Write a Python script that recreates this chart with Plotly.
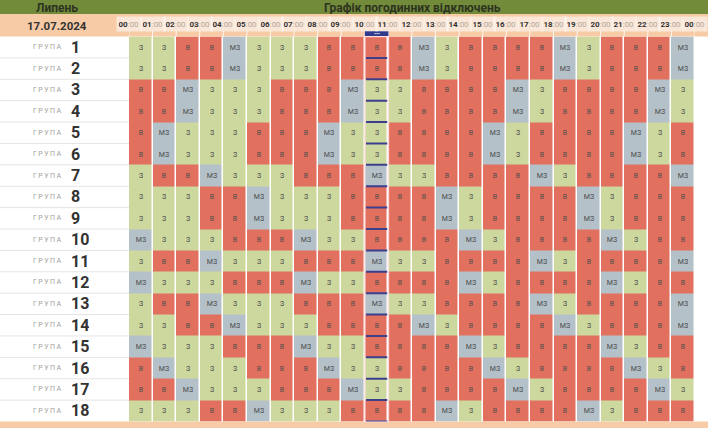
import plotly.graph_objects as go

# canvas in pixels, everything below is placed on it
W, H = 718, 428

month_label = "Липень"
title_text = "Графік погодинних відключень"
date_label = "17.07.2024"
current_hour = 10

groups = list(range(1, 19))
hour_labels = ["%02d" % h for h in range(24)] + ["00"]

# З - світло є, МЗ - можливе відключення, В - відключення
schedule = [
    "З З В В МЗ З З З В В В В МЗ З В В В В МЗ З В В В МЗ",   # 1
    "З З В В МЗ З З З В В В В МЗ З В В В В МЗ З В В В МЗ",   # 2
    "В В МЗ З З З В В В МЗ З З В В В В МЗ З В В В В МЗ З",   # 3
    "В В МЗ З З З В В В МЗ З З В В В В МЗ З В В В В МЗ З",   # 4
    "В МЗ З З З В В В МЗ З З В В В В МЗ З В В В В МЗ З В",   # 5
    "В МЗ З З З В В В МЗ З З В В В В МЗ З В В В В МЗ З В",   # 6
    "З В В МЗ З З З В В В МЗ З З В В В В МЗ З В В В В МЗ",   # 7
    "З З З В В МЗ З З З В В В В МЗ З В В В В МЗ З В В В",   # 8
    "З З З В В МЗ З З З В В В В МЗ З В В В В МЗ З В В В",   # 9
    "МЗ З З З В В В МЗ З З В В В В МЗ З В В В В МЗ З В В",   # 10
    "З В В МЗ З З З В В В МЗ З З В В В В МЗ З В В В В МЗ",   # 11
    "МЗ З З З В В В МЗ З З В В В В МЗ З В В В В МЗ З В В",   # 12
    "З В В МЗ З З З В В В МЗ З З В В В В МЗ З В В В В МЗ",   # 13
    "З З В В МЗ З З З В В В В МЗ З В В В В МЗ З В В В МЗ",   # 14
    "МЗ З З З В В В МЗ З З В В В В МЗ З В В В В МЗ З В В",   # 15
    "В МЗ З З З В В В МЗ З З В В В В МЗ З В В В В МЗ З В",   # 16
    "В В МЗ З З З В В В МЗ З З В В В В МЗ З В В В В МЗ З",   # 17
    "З З З В В МЗ З З З В В В В МЗ З В В В В МЗ З В В В",   # 18
]

codes = {"З": 0, "МЗ": 1, "В": 2}
green, grey, red = "#cdd89e", "#b4c1c9", "#e2705f"

text = [row.split() for row in schedule]
z = [[codes[v] for v in row] for row in text]

# pixel helpers
def px(x):
    return x / W

def py(y):
    return 1 - y / H

grid_left, grid_right = 129, 695
grid_top, grid_bottom = 36.5, 421.5

fig = go.Figure()

fig.add_trace(go.Heatmap(
    z=z,
    x=list(range(24)),
    y=groups,
    text=text,
    texttemplate="%{text}",
    textfont=dict(size=7, color="#4d4d4d", family="Roboto"),
    colorscale=[[0, green], [0.25, green], [0.25, grey], [0.75, grey], [0.75, red], [1, red]],
    zmin=0, zmax=2,
    xgap=1.5, ygap=0,
    showscale=False,
    hoverinfo="skip",
))

shapes = []
annotations = []

# top olive bar + peach header band + bottom band
shapes.append(dict(type="rect", xref="paper", yref="paper", x0=0, x1=px(708), y0=py(14), y1=1,
                   fillcolor="#718b3b", line_width=0, layer="below"))
shapes.append(dict(type="rect", xref="paper", yref="paper", x0=0, x1=px(708), y0=py(36.5), y1=py(14),
                   fillcolor="#f7cba6", line_width=0, layer="below"))
shapes.append(dict(type="rect", xref="paper", yref="paper", x0=0, x1=px(708), y0=0, y1=py(421.5),
                   fillcolor="#f7cba6", line_width=0, layer="below"))

annotations.append(dict(text="<b>" + month_label + "</b>", xref="paper", yref="paper",
                        x=px(57), y=py(7.5), xanchor="center", yanchor="middle",
                        showarrow=False, height=13,
                        font=dict(size=12, color="#2e3320", family="Roboto")))
annotations.append(dict(text="<b>" + title_text + "</b>", xref="paper", yref="paper",
                        x=px(412), y=py(7.5), xanchor="center", yanchor="middle",
                        showarrow=False, height=13,
                        font=dict(size=12, color="#2e3320", family="Roboto")))
annotations.append(dict(text="<b>" + date_label + "</b>", xref="paper", yref="paper",
                        x=px(57), y=py(25), xanchor="center", yanchor="middle",
                        showarrow=False, height=13,
                        font=dict(size=11.5, color="#333333", family="Roboto")))

# hour labels on column boundaries
for i, h in enumerate(hour_labels):
    annotations.append(dict(
        text="<b>" + h + "</b><span style='color:#b0a89e'>:00</span>",
        xref="x", yref="paper", x=i - 0.5, y=py(24.5), xanchor="center", yanchor="middle",
        showarrow=False, height=11,
        font=dict(size=8, color="#333333", family="Roboto"),
        bgcolor="rgba(255,255,255,0.55)", borderpad=1.5,
    ))
    shapes.append(dict(type="line", xref="x", yref="paper", x0=i - 0.5, x1=i - 0.5,
                       y0=py(grid_top), y1=py(31), line=dict(color="rgba(255,255,255,0.8)", width=1)))

# group labels on the left
for g in groups:
    annotations.append(dict(text="Г\u2009Р\u2009У\u2009П\u2009А", xref="paper", yref="y",
                            x=px(63), y=g, xanchor="right", yanchor="middle", showarrow=False,
                            font=dict(size=7, color="#a0a0a0", family="Roboto")))
    annotations.append(dict(text="<b>%d</b>" % g, xref="paper", yref="y",
                            x=px(69), y=g, xanchor="left", yanchor="middle", showarrow=False,
                            height=17,
                            font=dict(size=16, color="#333333", family="Roboto")))
    if g < groups[-1]:
        shapes.append(dict(type="line", xref="paper", yref="y", x0=0, x1=px(grid_left),
                           y0=g + 0.5, y1=g + 0.5, line=dict(color="#e4e4e4", width=1)))

# current hour highlight
shapes.append(dict(type="rect", xref="x", yref="paper", x0=current_hour - 0.5, x1=current_hour + 0.5,
                   y0=py(grid_bottom), y1=py(grid_top),
                   line=dict(color="rgba(255,225,225,0.9)", width=1.5)))
shapes.append(dict(type="rect", xref="x", yref="paper", x0=current_hour - 0.5, x1=current_hour + 0.5,
                   y0=py(36), y1=py(31), fillcolor="#2f3a8c", line_width=0))
annotations.append(dict(text="•••", xref="x", yref="paper", x=current_hour, y=py(33.5),
                        xanchor="center", yanchor="middle", showarrow=False, height=5,
                        font=dict(size=6, color="white")))
for g in groups:
    shapes.append(dict(type="line", xref="x", yref="y", x0=current_hour - 0.45, x1=current_hour + 0.45,
                       y0=g + 0.5, y1=g + 0.5, line=dict(color="#3b3f8e", width=2)))

fig.update_layout(
    width=W, height=H,
    margin=dict(l=0, r=0, t=0, b=0),
    paper_bgcolor="white",
    plot_bgcolor="white",
    xaxis=dict(domain=[px(grid_left), px(grid_right)], range=[-0.5, 23.5],
               visible=False, fixedrange=True),
    yaxis=dict(domain=[py(grid_bottom), py(grid_top)], range=[18.5, 0.5],
               visible=False, fixedrange=True),
    shapes=shapes,
    annotations=annotations,
    font=dict(family="Roboto"),
    showlegend=False,
)

# the page body has a default 8px margin, drop it so the figure fills the window
fig.write_html("out.html", config={"displayModeBar": False},
               post_script="document.body.style.margin='0';document.body.style.overflow='hidden';")
